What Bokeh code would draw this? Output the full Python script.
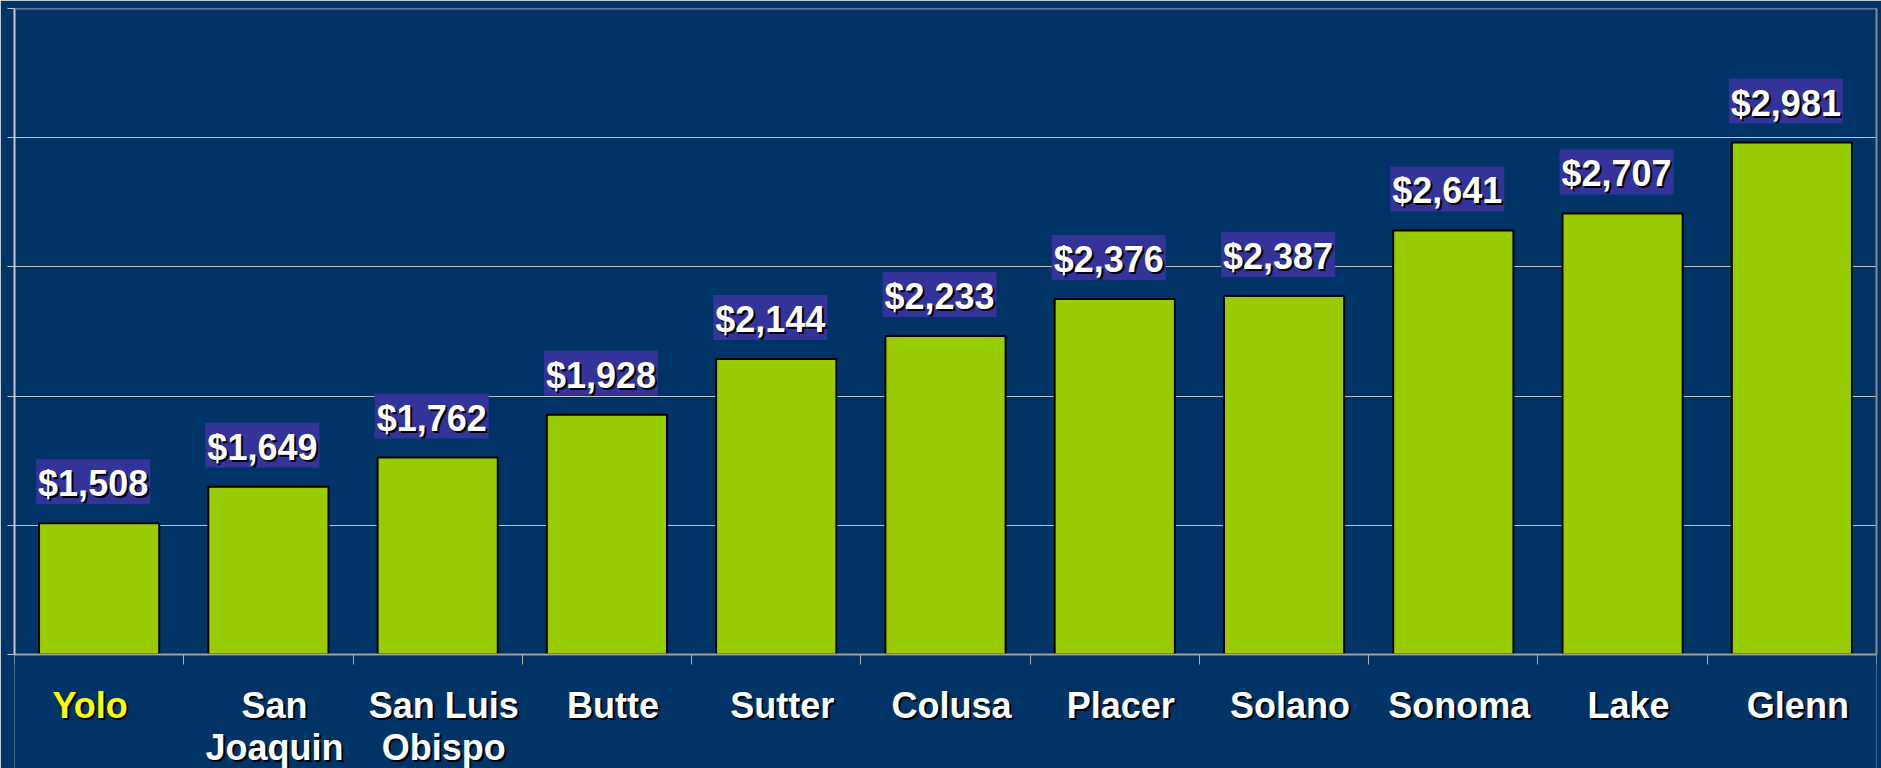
from bokeh.plotting import figure
from bokeh.models import Range1d, FixedTicker, Label, LinearAxis, Span, CustomJSTickFormatter
from bokeh.embed import file_html
from bokeh.resources import INLINE

# ---- data ----
counties = ["Yolo", "San Joaquin", "San Luis Obispo", "Butte", "Sutter", "Colusa",
            "Placer", "Solano", "Sonoma", "Lake", "Glenn"]
label_lines = [["Yolo"], ["San", "Joaquin"], ["San Luis", "Obispo"], ["Butte"], ["Sutter"],
               ["Colusa"], ["Placer"], ["Solano"], ["Sonoma"], ["Lake"], ["Glenn"]]
values = [1508, 1649, 1762, 1928, 2144, 2233, 2376, 2387, 2641, 2707, 2981]
y_ticks = [1000, 1500, 2000, 2500, 3000, 3500]
highlight = "Yolo"

BG = "#003366"
BAR = "#99CC00"
BOX = "#333399"
FONT = "Liberation Sans"

n = len(counties)
xs = [i + 0.5 for i in range(n)]

# layout: value axis occupies the upper 646 px of a 760 px frame, labels below
W, H = 1881, 768
top_px = 8
plot_px, frame_px = 646, H - top_px
y_lo, y_hi = y_ticks[0], y_ticks[-1]
y_start = y_hi - (y_hi - y_lo) * frame_px / plot_px

p = figure(width=W, height=H, output_backend="svg", toolbar_location=None,
           x_range=Range1d(0, n), y_range=Range1d(y_start, y_hi),
           min_border_left=14, min_border_right=5, min_border_top=top_px, min_border_bottom=0)
p.background_fill_color = BG
p.border_fill_color = BG
p.outline_line_color = None

empty = CustomJSTickFormatter(code="return ''")

p.vbar(x=xs, top=values, bottom=y_lo, width=0.71, fill_color=BAR,
       line_color="black", line_width=2)

# grid
p.xgrid.grid_line_color = None
p.ygrid.ticker = FixedTicker(ticks=y_ticks[1:-1])
p.ygrid.grid_line_color = "#c0c0c0"
p.ygrid.grid_line_width = 1
p.add_layout(Span(location=y_hi, dimension="width", line_color="#8a8a8a", line_width=2))

# left axis
ya = p.yaxis[0]
ya.ticker = FixedTicker(ticks=y_ticks)
ya.formatter = empty
ya.major_label_standoff = 0
ya.major_tick_in = 0
ya.major_tick_out = 7
ya.minor_tick_line_color = None
ya.axis_line_color = "#c8c8c8"
ya.axis_line_width = 2
ya.major_tick_line_color = "#c8c8c8"
ya.bounds = (y_lo, y_hi)

# right border axis
ra = LinearAxis(ticker=FixedTicker(ticks=[]), formatter=empty, bounds=(y_lo, y_hi),
                axis_line_color="#8a8a8a", axis_line_width=2, major_tick_line_color=None,
                minor_tick_line_color=None, major_label_standoff=0)
p.add_layout(ra, "right")

# bottom axis fixed at the base value
xa = p.xaxis[0]
xa.fixed_location = y_lo
xa.ticker = FixedTicker(ticks=list(range(n + 1)))
xa.formatter = empty
xa.major_label_standoff = 0
xa.major_tick_in = 0
xa.major_tick_out = 10
xa.minor_tick_line_color = None
xa.axis_line_color = "#a0a0a0"
xa.axis_line_width = 2
xa.major_tick_line_color = "#b0b0b0"

# value labels
for x, v in zip(xs, values):
    txt = "${:,}".format(v)
    common = dict(x=x, y=v, text=txt, text_font=FONT, text_font_style="bold",
                  text_font_size="36px", text_align="center", text_baseline="bottom")
    p.add_layout(Label(**common, x_offset=-6, y_offset=19, text_color=BOX,
                       background_fill_color=BOX, padding=2))
    p.add_layout(Label(**common, x_offset=-4, y_offset=17, text_color="black"))
    p.add_layout(Label(**common, x_offset=-6, y_offset=19, text_color="white"))

# category labels
for x, name, lines in zip(xs, counties, label_lines):
    color = "#FFFF00" if name == highlight else "white"
    dx = -9 if name == highlight else 6
    for k, line in enumerate(lines):
        common = dict(x=x, y=y_lo, text=line, text_font=FONT, text_font_style="bold",
                      text_font_size="36px", text_align="center", text_baseline="bottom")
        yo = -71 - 42 * k
        p.add_layout(Label(**common, x_offset=dx + 2, y_offset=yo - 2, text_color="black"))
        p.add_layout(Label(**common, x_offset=dx, y_offset=yo, text_color=color))

open("out.html", "w").write(file_html(p, INLINE))
